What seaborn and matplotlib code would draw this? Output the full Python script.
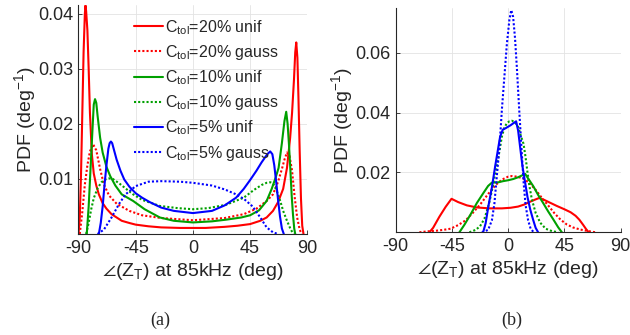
import numpy as np
import pandas as pd
import matplotlib
matplotlib.use('Agg')
from matplotlib import pyplot as plt
import seaborn as sns

# ---- panel (a): phase PDFs, full range ----
a_x_r20u = [-90, -89, -88, -87, -86, -85, -84.5, -84, -83, -82, -81, -79.5, -78, -76, -74, -71, -68, -64, -60, -56,
            -50, -45, -35, -25, -10, 0, 10, 25, 35, 45, 53, 58, 63, 67, 71, 74, 76.5, 78, 79.5, 80.5, 81.3, 82.2, 83,
            84, 85, 86, 87]
a_y_r20u = [0, 0.003, 0.011, 0.022, 0.033, 0.040, 0.0415, 0.0405, 0.037, 0.030, 0.022, 0.0145, 0.011, 0.0088, 0.0072,
            0.0056, 0.0046, 0.0036, 0.003, 0.0024, 0.002, 0.0017, 0.0014, 0.0012, 0.0011, 0.0011, 0.0011, 0.0013,
            0.0015, 0.0018, 0.0024, 0.003, 0.0042, 0.0058, 0.0082, 0.012, 0.0175, 0.022, 0.028, 0.033, 0.0348, 0.032,
            0.025, 0.015, 0.0065, 0.0015, 0]

a_x_r20g = [-89, -87, -85, -83, -81, -78.5, -76, -73, -70, -66, -60, -50, -40, -25, 0, 25, 40, 50, 58, 63, 67, 70, 72,
            74, 76, 78, 80, 82, 84, 85.5]
a_y_r20g = [0, 0.004, 0.009, 0.0125, 0.015, 0.0163, 0.0152, 0.0118, 0.009, 0.007, 0.0055, 0.0042, 0.0034, 0.0029,
            0.0025, 0.0029, 0.0036, 0.0046, 0.006, 0.0072, 0.0095, 0.0118, 0.0135, 0.0148, 0.0142, 0.0115, 0.0068,
            0.003, 0.0008, 0]

a_x_g10u = [-83.5, -82, -80.5, -79, -78, -77, -76, -75, -73, -71, -68, -65, -61, -56, -47, -38, -26, -15, 0, 15, 26,
            38, 45, 52, 58, 62, 65, 67.4, 70, 72, 73.4, 74.5, 75.5, 76.6, 77.7, 78.7, 79.7, 80.5]
a_y_g10u = [0, 0.005, 0.012, 0.019, 0.0235, 0.0245, 0.0238, 0.0215, 0.0175, 0.0148, 0.0122, 0.0105, 0.0088, 0.0072,
            0.006, 0.0045, 0.003, 0.0024, 0.0021, 0.0023, 0.0026, 0.003, 0.0034, 0.0043, 0.006, 0.0082, 0.0102, 0.012,
            0.0165, 0.0205, 0.0222, 0.020, 0.0165, 0.012, 0.007, 0.0036, 0.001, 0]

a_x_g10g = [-84, -82, -80, -78, -75, -72, -69, -66, -63, -58, -52, -47, -40, -26, -12, 0, 12, 26, 40, 48, 54, 58, 61,
            63.5, 66, 68.7, 71, 74, 76.6, 79]
a_y_g10g = [0, 0.002, 0.0045, 0.0065, 0.0083, 0.0094, 0.0099, 0.0101, 0.01, 0.0092, 0.0081, 0.0072, 0.0062, 0.0051,
            0.0047, 0.0045, 0.0047, 0.0053, 0.0066, 0.008, 0.0089, 0.0093, 0.0094, 0.009, 0.0078, 0.006, 0.0042,
            0.0024, 0.001, 0]

a_x_b5u = [-74, -72.5, -71, -69.5, -68, -66.5, -65.5, -64.5, -63.5, -62, -60, -57, -54, -50, -45, -40, -34, -25, -15,
           0, 15, 25, 34, 40, 45, 50, 54, 57, 59, 60.8, 62.5, 64, 65.5, 67, 68.5, 70, 71.5]
a_y_b5u = [0, 0.002, 0.005, 0.009, 0.0125, 0.0155, 0.0165, 0.0168, 0.0165, 0.0152, 0.0135, 0.0115, 0.0099, 0.0086,
           0.0074, 0.0066, 0.0058, 0.0048, 0.0042, 0.0038, 0.0042, 0.0052, 0.0066, 0.0082, 0.0098, 0.0115, 0.013,
           0.014, 0.0146, 0.015, 0.0145, 0.0125, 0.0095, 0.0062, 0.0032, 0.001, 0]

a_x_b5g = [-75, -70, -64, -58, -53, -45, -35, -25, -10, 0, 15, 25, 33, 40, 47, 53, 58, 63, 67]
a_y_b5g = [0, 0.0008, 0.003, 0.0055, 0.0072, 0.0087, 0.0095, 0.0096, 0.0095, 0.0093, 0.0088, 0.0081, 0.0073, 0.0064,
           0.005, 0.003, 0.0012, 0.0003, 0]

# ---- panel (b): phase PDFs, narrow case ----
b_x_r20u = [-63, -60, -55, -50, -45.3, -40, -33, -25, -15, -5, 2, 8, 13, 18, 22, 25, 29, 34, 39, 45, 50, 54, 57, 60,
            62.5, 64.5]
b_y_r20u = [0, 0.0015, 0.0052, 0.0085, 0.0112, 0.0101, 0.009, 0.0083, 0.008, 0.008, 0.0082, 0.0086, 0.0093, 0.0103,
            0.011, 0.0115, 0.0108, 0.0098, 0.0088, 0.0077, 0.0067, 0.0055, 0.0042, 0.0025, 0.001, 0]

b_x_r20g = [-71, -65, -58, -52, -46, -40, -34, -28, -22, -16, -10, -5, 0, 3, 7, 12, 17, 22, 27, 32, 37, 42, 47, 52,
            58, 64, 70]
b_y_r20g = [0, 0.0003, 0.0005, 0.0008, 0.0012, 0.0024, 0.004, 0.0066, 0.0095, 0.0128, 0.0158, 0.0176, 0.0186, 0.0188,
            0.0186, 0.018, 0.0165, 0.0142, 0.0115, 0.009, 0.0064, 0.0042, 0.0026, 0.0016, 0.0009, 0.0004, 0]

b_x_g10u = [-39, -35, -30, -25, -20, -16, -13, -8, -4, 0, 4, 8, 11, 13.7, 16, 20, 24, 28, 32, 36, 40, 43]
b_y_g10u = [0, 0.0025, 0.006, 0.0098, 0.013, 0.0155, 0.0166, 0.0167, 0.0171, 0.0174, 0.0178, 0.0184, 0.019, 0.0195,
            0.018, 0.0155, 0.0125, 0.0098, 0.007, 0.0044, 0.0017, 0]

b_x_g10g = [-31, -26, -22.5, -19, -16, -14.5, -12, -9, -7, -5, -3, -1, 1, 3, 5, 7, 8.3, 10, 12.3, 14, 15.5, 17, 19, 22,
            25.7, 30, 35, 40]
b_y_g10g = [0, 0.0008, 0.002, 0.0045, 0.0085, 0.011, 0.016, 0.0225, 0.027, 0.032, 0.035, 0.0365, 0.0371, 0.0373,
            0.0369, 0.036, 0.035, 0.0325, 0.0296, 0.025, 0.02, 0.0155, 0.011, 0.0065, 0.0032, 0.0012, 0.0004, 0]

b_x_b5u = [-20, -18, -15.8, -13, -10.4, -8, -6.4, -4.3, -2, 0, 2, 4, 6.4, 8, 9.6, 11.5, 13.7, 15.5, 17.7, 20, 22, 24]
b_y_b5u = [0, 0.003, 0.0087, 0.015, 0.022, 0.028, 0.032, 0.0343, 0.0348, 0.0353, 0.0358, 0.0364, 0.0371, 0.034,
           0.0285, 0.022, 0.0164, 0.0118, 0.0076, 0.0042, 0.0015, 0]

b_x_b5g = [-21, -16, -13, -11, -9, -7, -5, -3, -1, 1, 2.5, 4, 5.5, 7, 9, 11, 12.5, 14, 16, 18, 20.5]
b_y_b5g = [0, 0.0008, 0.004, 0.0095, 0.019, 0.028, 0.041, 0.052, 0.063, 0.071, 0.0743, 0.072, 0.065, 0.055, 0.04,
           0.026, 0.016, 0.009, 0.004, 0.0012, 0]

labels = ['C$_\\mathregular{tol}$=20% unif', 'C$_\\mathregular{tol}$=20% gauss',
          'C$_\\mathregular{tol}$=10% unif', 'C$_\\mathregular{tol}$=10% gauss',
          'C$_\\mathregular{tol}$=5% unif', 'C$_\\mathregular{tol}$=5% gauss']
colors = ['#ff0000', '#ff0000', '#00a000', '#00a000', '#0000ff', '#0000ff']
dotted = (0, (1, 1))
styles = ['-', dotted, '-', dotted, '-', dotted]

panel_a = [(a_x_r20u, a_y_r20u), (a_x_r20g, a_y_r20g), (a_x_g10u, a_y_g10u),
           (a_x_g10g, a_y_g10g), (a_x_b5u, a_y_b5u), (a_x_b5g, a_y_b5g)]
panel_b = [(b_x_r20u, b_y_r20u), (b_x_r20g, b_y_r20g), (b_x_g10u, b_y_g10u),
           (b_x_g10g, b_y_g10g), (b_x_b5u, b_y_b5u), (b_x_b5g, b_y_b5g)]

sns.set_style('whitegrid')
plt.rcParams['font.family'] = ['Liberation Sans', 'DejaVu Sans']
plt.rcParams['mathtext.fontset'] = 'custom'
plt.rcParams['mathtext.rm'] = 'Liberation Sans'
plt.rcParams['mathtext.it'] = 'Liberation Sans:italic'
plt.rcParams['mathtext.fallback'] = 'stixsans'
plt.rcParams['axes.unicode_minus'] = False

fig = plt.figure(figsize=(6.3, 3.35), dpi=100)
ax1 = fig.add_axes([0.1246, 0.3015, 0.3632, 0.6836])
ax2 = fig.add_axes([0.628, 0.3066, 0.3571, 0.6696])

for ax, panel in [(ax1, panel_a), (ax2, panel_b)]:
    for (xs, ys), lab, col, ls in zip(panel, labels, colors, styles):
        sns.lineplot(x=xs, y=ys, ax=ax, color=col, linestyle=ls, lw=1.5, label=lab,
                     estimator=None, sort=False, legend=False)

# Format axes and tickmarks (MATLAB look)
for ax in (ax1, ax2):
    ax.set_xlim(-90, 90)
    ax.set_xticks([-90, -45, 0, 45, 90])
    ax.grid(True, color='#e3e3e3', lw=0.6)
    for side in ['top', 'right']:
        ax.spines[side].set_visible(False)
    for side in ['left', 'bottom']:
        ax.spines[side].set_color('#262626')
        ax.spines[side].set_linewidth(0.8)
    ax.tick_params(direction='in', length=3, width=0.6, color='#262626', labelsize=13, pad=4,
                   left=True, bottom=True)
    ax.set_xlabel('$\\angle$(Z$_\\mathregular{T}$) at 85kHz (deg)', fontsize=14, labelpad=3)
    ax.set_ylabel('PDF (deg$^\\mathregular{-1}$)', fontsize=14, labelpad=0)
    ax.yaxis.set_major_formatter('{x:.2f}')

ax1.set_ylim(0, 0.0416)
ax1.set_yticks([0.01, 0.02, 0.03, 0.04])
ax2.set_ylim(0, 0.075)
ax2.set_yticks([0.02, 0.04, 0.06])

handles = ax1.get_lines()[:6]
ax1.legend(handles, labels, loc='upper left', bbox_to_anchor=(0.243, 0.944), frameon=False,
           fontsize=11.5, handlelength=1.8, handletextpad=0.15, labelspacing=0.4, borderpad=0,
           borderaxespad=0)

fig.text(0.254, 0.043, '(a)', family='Liberation Serif', fontsize=13, ha='center', va='center')
fig.text(0.813, 0.043, '(b)', family='Liberation Serif', fontsize=13, ha='center', va='center')

fig.savefig('out.png', dpi=100)
